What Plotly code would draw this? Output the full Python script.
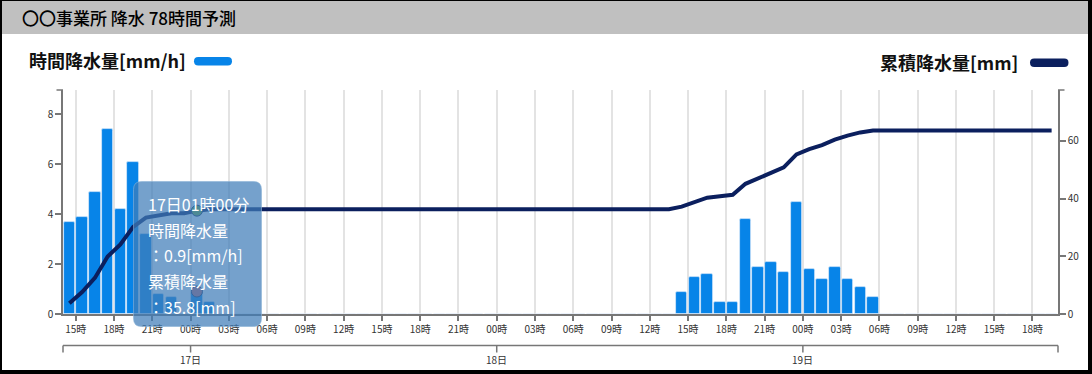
import numpy as np
import pandas as pd
import plotly.graph_objects as go

# ---------------- data ----------------
TITLE = "〇〇事業所 降水 78時間予測"
LEFT_LABEL = "時間降水量[mm/h]"
RIGHT_LABEL = "累積降水量[mm]"

# hourly rainfall, each value is the hour ENDING at the timestamp
rain_day16 = [3.7, 3.9, 4.9, 7.4, 4.2, 6.1, 3.2, 0.8, 0.7]            # ends 15:00..23:00 (16th)
rain_day17 = [0.0, 0.9, 0.5] + [0.0] * 21                              # ends 00:00..23:00 (17th)
rain_day18 = [0.0] * 15 + [0.9, 1.5, 1.6, 0.5, 0.5, 3.8, 1.9, 2.1, 1.7]  # ends 00:00..23:00 (18th)
rain_day19 = [4.5, 1.8, 1.4, 1.9, 1.4, 1.1, 0.7] + [0.0] * 14          # ends 00:00..20:00 (19th)
rain = rain_day16 + rain_day17 + rain_day18 + rain_day19

hour_end = pd.date_range("2024-06-16 15:00", periods=len(rain), freq="h")
x_center = hour_end - pd.Timedelta(minutes=30)
cum = np.round(np.cumsum(rain), 1)

DAY_TICKS = ["2024-06-17 00:00", "2024-06-18 00:00", "2024-06-19 00:00"]
DAY_LABELS = ["17日", "18日", "19日"]
X0 = pd.Timestamp("2024-06-16 14:00")
X1 = pd.Timestamp("2024-06-19 20:00")
LEFT_RANGE = [0, 8.96]
RIGHT_RANGE = [0, 77.6]
RIGHT_TICKS = [0, 20, 40, 60]
HIGHLIGHT = 10  # tooltip index (17日01時00分)

# ---------------- style ----------------
BAR = "#0784e8"
LINE = "#0b1f5e"
AXIS = "#777777"
TXT = "#333333"
FONT = "Noto Sans CJK JP"

W, H = 1092, 374
ML, MR, MT, MB = 63, 34, 90, 60
PW = W - ML - MR
PH = H - MT - MB


def px(x):
    return (x - ML) / PW


def py(y):
    return (H - MB - y) / PH


def tx(t):
    return (pd.Timestamp(t) - X0) / (X1 - X0)


def rrect(xa, ya, xb, yb, r):
    pts = [
        ("M", [(xa + r, ya)]),
        ("L", [(xb - r, ya)]),
        ("Q", [(xb, ya), (xb, ya + r)]),
        ("L", [(xb, yb - r)]),
        ("Q", [(xb, yb), (xb - r, yb)]),
        ("L", [(xa + r, yb)]),
        ("Q", [(xa, yb), (xa, yb - r)]),
        ("L", [(xa, ya + r)]),
        ("Q", [(xa, ya), (xa + r, ya)]),
    ]
    s = ""
    for cmd, ps in pts:
        s += cmd + " " + " ".join(f"{px(a):.6f},{py(b):.6f}" for a, b in ps) + " "
    return s + "Z"


fig = go.Figure()
fig.add_trace(go.Bar(
    x=x_center, y=rain, width=0.9 * 3600 * 1000,
    marker=dict(color=BAR, line=dict(color="rgba(230,240,250,0.8)", width=0.8), cornerradius=2),
    yaxis="y", name=LEFT_LABEL,
))
fig.add_trace(go.Scatter(
    x=x_center, y=cum, mode="lines", line=dict(color=LINE, width=4),
    yaxis="y2", name=RIGHT_LABEL,
))
fig.add_trace(go.Scatter(
    x=[x_center[HIGHLIGHT]], y=[cum[HIGHLIGHT]], mode="markers", yaxis="y2",
    marker=dict(size=11, color="#6fae3a", line=dict(color="#1a2a5a", width=1)),
))
fig.add_trace(go.Scatter(
    x=[x_center[HIGHLIGHT]], y=[rain[HIGHLIGHT]], mode="markers", yaxis="y",
    marker=dict(size=11, color="#c86a70", line=dict(color="#1a2a5a", width=1)),
))

shapes = []
# title bar
shapes.append(dict(type="rect", xref="paper", yref="paper", x0=px(0), x1=px(W), y0=py(0), y1=py(34),
                   fillcolor="#c0c0c0", line=dict(width=0), layer="below"))
# frame
for (a, b, c, d) in [(0, 0, W, 1), (0, 0, 2, H), (W - 4, 0, W, H), (0, H - 4, W, H)]:
    shapes.append(dict(type="rect", xref="paper", yref="paper", x0=px(a), x1=px(c), y0=py(b), y1=py(d),
                       fillcolor="#000000", line=dict(width=0), layer="above"))
# legend pills
shapes.append(dict(type="path", xref="paper", yref="paper", path=rrect(194, 57, 232, 65.5, 4.2),
                   fillcolor=BAR, line=dict(width=0)))
shapes.append(dict(type="path", xref="paper", yref="paper", path=rrect(1030, 58.5, 1068.5, 67, 4.2),
                   fillcolor=LINE, line=dict(width=0)))
# y-axis end ticks (top)
shapes.append(dict(type="line", xref="paper", yref="paper", x0=px(56.5), x1=0, y0=1, y1=1,
                   line=dict(color=AXIS, width=1.5)))
shapes.append(dict(type="line", xref="paper", yref="paper", x0=1, x1=px(1064.5), y0=1, y1=1,
                   line=dict(color=AXIS, width=1.5)))
# day axis
DAY_Y = py(345.5)
shapes.append(dict(type="line", xref="paper", yref="paper", x0=0, x1=1, y0=DAY_Y, y1=DAY_Y,
                   line=dict(color=AXIS, width=1.5)))
for xv in [0, 1] + [tx(t) for t in DAY_TICKS]:
    shapes.append(dict(type="line", xref="paper", yref="paper", x0=xv, x1=xv, y0=DAY_Y, y1=py(352.5),
                       line=dict(color=AXIS, width=1.5)))
# tooltip box
shapes.append(dict(type="path", xref="paper", yref="paper", path=rrect(133.5, 181.5, 261.5, 326.5, 8),
                   fillcolor="rgba(64,125,184,0.72)", line=dict(color="rgba(140,180,215,0.6)", width=1),
                   layer="above"))

annotations = []
annotations.append(dict(text=TITLE, xref="paper", yref="paper", x=px(20), y=py(17.5),
                        xanchor="left", yanchor="middle", showarrow=False,
                        font=dict(family=FONT, size=17, color="#000000", weight=500)))
annotations.append(dict(text=LEFT_LABEL, xref="paper", yref="paper", x=px(27), y=py(60.5),
                        xanchor="left", yanchor="middle", showarrow=False,
                        font=dict(family=FONT, size=18, color="#111111", weight=700)))
annotations.append(dict(text=RIGHT_LABEL, xref="paper", yref="paper", x=px(1020), y=py(61.5),
                        xanchor="right", yanchor="middle", showarrow=False,
                        font=dict(family=FONT, size=18, color="#111111", weight=700)))
for t, lab in zip(DAY_TICKS, DAY_LABELS):
    annotations.append(dict(text=lab, xref="paper", yref="paper", x=tx(t), y=py(359.5),
                            xanchor="center", yanchor="middle", showarrow=False,
                            font=dict(family=FONT, size=10, color=TXT)))
ht = hour_end[HIGHLIGHT]
tip_lines = [
    f"{ht.day}日{ht.hour:02d}時{ht.minute:02d}分",
    "時間降水量",
    f"：{rain[HIGHLIGHT]:.1f}[mm/h]",
    "累積降水量",
    f"：{cum[HIGHLIGHT]:.1f}[mm]",
]
for i, s in enumerate(tip_lines):
    annotations.append(dict(text=s, xref="paper", yref="paper", x=px(145.5), y=py(204 + 25.7 * i),
                            xanchor="left", yanchor="middle", showarrow=False,
                            font=dict(family=FONT, size=16, color="#ffffff")))

axis_common = dict(showline=True, linecolor=AXIS, linewidth=1.5, ticks="outside", tickcolor=AXIS,
                   tickwidth=1.5, zeroline=False, tickfont=dict(family=FONT, size=10, color=TXT))

fig.update_layout(
    width=W, height=H,
    margin=dict(l=ML, r=MR, t=MT, b=MB, pad=0),
    paper_bgcolor="#ffffff", plot_bgcolor="#ffffff",
    showlegend=False, hovermode=False, bargap=0,
    font=dict(family=FONT, color=TXT),
    xaxis=dict(type="date", range=[X0, X1], tickformat="%H時", dtick=3 * 3600 * 1000,
               tick0="2024-06-16 00:00", showgrid=True, gridcolor="#e3e3e3", gridwidth=1.5,
               ticklen=5, **axis_common),
    yaxis=dict(range=LEFT_RANGE, dtick=2, showgrid=False, ticklen=6, **axis_common),
    yaxis2=dict(range=RIGHT_RANGE, tickvals=RIGHT_TICKS, overlaying="y", side="right",
                showgrid=False, ticklen=6, **axis_common),
    shapes=shapes,
    annotations=annotations,
)

fig.write_html("out.html")
